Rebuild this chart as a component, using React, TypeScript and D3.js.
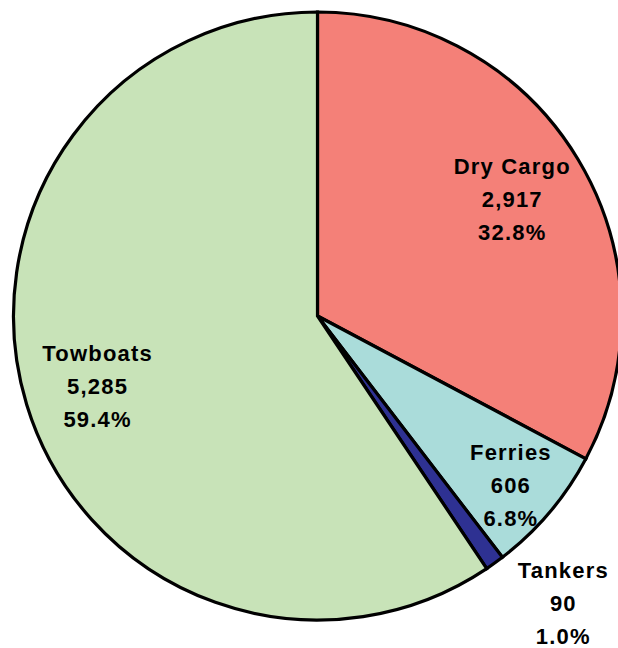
import React from "react";
import * as d3 from "d3";

const categories = ["Dry Cargo", "Ferries", "Tankers", "Towboats"];
const values = [2917, 606, 90, 5285];
const percents = ["32.8%", "6.8%", "1.0%", "59.4%"];
const colors = ["#F48078", "#AADCDA", "#2E3192", "#C8E3B8"];

// label distance as fraction of radius (layout)
const labelRadius = [0.745, 0.845, 1.242, 0.761];
const labelAngleShift = [0, 0.003, -0.0135, -0.002];

const W = 618;
const H = 648;
const cx = 317.5;
const cy = 316;
const R = 304;
const LS = 1.2;

export default function App() {
  const data = categories.map((c, i) => ({ c, v: values[i], p: percents[i], i }));
  const pie = d3.pie<any>().sort(null).value((d) => d.v);
  const arcs = pie(data);
  const arc = d3.arc<any>().innerRadius(0).outerRadius(R);
  const fmt = d3.format(",");
  return (
    <div style={{ position: "fixed", left: 0, top: 0, width: W, height: H, background: "#fff" }}>
      <svg width={W} height={H} style={{ display: "block" }}>
        <g transform={`translate(${cx},${cy})`}>
          {arcs.map((a, i) => (
            <path
              key={i}
              d={arc(a) as string}
              fill={colors[i]}
              stroke="#000"
              strokeWidth={3.2}
              strokeLinejoin="miter"
            />
          ))}
          {arcs.map((a, i) => {
            const mid = (a.startAngle + a.endAngle) / 2 + labelAngleShift[i] * Math.PI * 2;
            const r = R * labelRadius[i];
            const x = Math.sin(mid) * r + LS / 2;
            const y = -Math.cos(mid) * r;
            const lines = [categories[i], fmt(values[i]), percents[i]];
            return (
              <text
                key={"t" + i}
                x={x}
                y={y}
                textAnchor="middle"
                fontFamily="'Liberation Sans', Arial, sans-serif"
                fontWeight="bold"
                fontSize={22}
                letterSpacing={LS}
                fill="#000"
              >
                {lines.map((l, j) => (
                  <tspan key={j} x={x} y={y + (j - 1) * 33} dy="0.35em">
                    {l}
                  </tspan>
                ))}
              </text>
            );
          })}
        </g>
      </svg>
    </div>
  );
}
